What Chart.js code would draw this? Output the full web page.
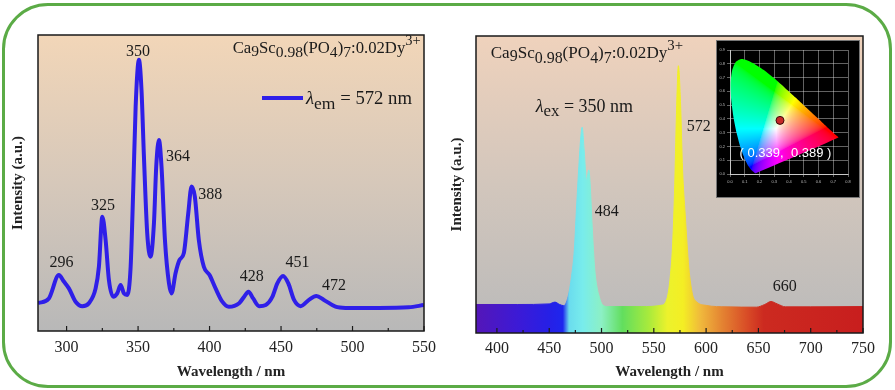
<!DOCTYPE html>
<html><head><meta charset="utf-8">
<script src="https://cdn.jsdelivr.net/npm/chart.js@4.4.1/dist/chart.umd.min.js"></script>
<style>
html,body{margin:0;padding:0;background:#fff;width:895px;height:390px;overflow:hidden;}
#wrap{position:relative;width:895px;height:390px;}
canvas{position:absolute;}
#frame{position:absolute;left:2px;top:3px;width:884px;height:379px;border:3px solid #5bab46;border-radius:46px;pointer-events:none;}
</style></head><body>
<div id="wrap">
<canvas id="c1" width="445" height="390" style="left:0;top:0;width:445px;height:390px"></canvas>
<canvas id="c2" width="450" height="390" style="left:445px;top:0;width:450px;height:390px"></canvas>
<canvas id="c3" width="144" height="158" style="left:716px;top:40px;width:144px;height:158px"></canvas>
<div id="frame"></div>
</div>
<script>
// ---------- DATA ----------
// Excitation spectrum (left), monitored at 572 nm
const excWavelength = [280,287.6,294.6,298.1,301.6,306.3,311,315.6,320.3,322.6,325,327.3,329.6,332.6,335.4,337.8,340.1,342.4,344.8,346.6,348.3,350.6,352.4,354.1,356.4,358.7,361.1,362.7,364.6,366.4,368.8,371.6,373.4,376.2,379,382,385.1,387.4,389.7,392.5,396,400,404.2,408.9,413.5,420.7,424.2,427.2,430.5,434.7,439.3,444,447.4,451.4,455.1,459.1,463.7,469.5,474.7,480,488.1,495.1,518.4,539.3,550];
const excIntensity = [9.4,11,18.9,16.7,14.4,9.9,8.4,9.4,14.4,21.7,38.6,30.7,17.2,11.6,12.7,15.5,12.7,12.2,21.7,47.6,75.8,91.6,81.4,58.9,33,25.1,36.4,55.5,64.5,55.5,30.7,16.1,12.7,19.5,24,26.3,39.8,48.8,45.4,30.7,21.7,18.9,14.4,9.9,8.2,9.4,11.6,13.3,11,8.4,8.8,11.6,16.1,18.6,16.1,10.5,8.4,10.5,11.8,10.5,8.2,7.8,7.8,8,8.8];
const excTicks = [300,350,400,450,500,550];
const excPeakText = ['296','325','350','364','388','428','451','472'];
const excPeakTextX = [296.5,325.5,350,378,400.5,429.5,461.5,487];
const excPeakTextY = [23,42.2,94.3,58.8,46,18.2,23,15.2];

// Emission spectrum (right), excited at 350 nm
const emWavelength = [380,420,450,455.5,460,464,468,471.3,474,476,478.3,480.2,481.5,483.4,485.7,487.9,489.1,491.1,493.6,496.2,497.4,500,506,538,558,563.5,566,568,570,571.5,573.5,575.5,577.5,580,583.5,587,591,600,620,648,656,662,668,676,700,750];
const emIntensity = [9.6,9.6,9.8,10.4,9.6,9.2,12.2,19,28,41.4,56,66,69.3,61.6,51.5,54.9,50.4,35.8,21.2,14.5,12.8,10,8.9,8.9,9.4,13,20,30,50,72,90,78,55,40,22,13,10.5,9.3,8.8,8.7,9.6,10.6,9.8,8.8,8.8,8.9];
const emTicks = [400,450,500,550,600,650,700,750];
const emPeakText = ['484','572','660'];
const emPeakTextX = [505.1,593,675.2];
const emPeakTextY = [40.8,69.4,15.5];

// CIE 1931 inset
const cieLocusX = [0.1741,0.1714,0.1644,0.1566,0.1440,0.1241,0.1096,0.0913,0.0687,0.0454,0.0235,0.0082,0.0039,0.0139,0.0389,0.0743,0.1142,0.1547,0.2296,0.3016,0.3731,0.4441,0.5125,0.5752,0.6270,0.6915,0.7190,0.7347,0.1741];
const cieLocusY = [0.0050,0.0051,0.0109,0.0177,0.0297,0.0578,0.0868,0.1327,0.2007,0.2950,0.4127,0.5384,0.6548,0.7502,0.8120,0.8338,0.8262,0.8059,0.7543,0.6923,0.6245,0.5547,0.4866,0.4242,0.3725,0.3083,0.2809,0.2653,0.0050];
const ciePointX = [0.339];
const ciePointY = [0.389];
const cieTicksX = [0,0.1,0.2,0.3,0.4,0.5,0.6,0.7,0.8];
const cieTicksY = [0,0.1,0.2,0.3,0.4,0.5,0.6,0.7,0.8,0.9];
const cieLabelText = '( 0.339,  0.389 )';
const cieLabelAt = [0.376, 0.149];

// ---------- STYLE ----------
const serif = '"Liberation Serif","Times New Roman",serif';
const spectrumStopWl = [380,420,450,463,469,482,500,520,545,563,578,595,615,640,655,750];
const spectrumStopColor = ['#5416b8','#3c1ad6','#2620e6','#1e26ee','#6adcee','#78ecec','#8cf0c4','#62de5e','#a8ea3c','#ecf22c','#f4ee24','#f0b83c','#e48432','#d84a26','#cc2a20','#c81e1e'];

Chart.defaults.animation = false;
Chart.defaults.responsive = false;
Chart.defaults.devicePixelRatio = 1;
Chart.defaults.font.family = serif;

function drawRuns(ctx, runs, x, y, targetW) {
  let total = 0;
  runs.forEach(r => { ctx.font = (r.it ? 'italic ' : '') + r.sz + 'px ' + serif; total += ctx.measureText(r.t).width; });
  const k = targetW ? targetW / total : 1;
  let cx = x;
  ctx.textAlign = 'left'; ctx.textBaseline = 'alphabetic';
  runs.forEach(r => {
    ctx.font = (r.it ? 'italic ' : '') + (r.sz * k).toFixed(2) + 'px ' + serif;
    ctx.fillText(r.t, cx, y + (r.dy || 0) * k);
    cx += ctx.measureText(r.t).width;
  });
}
const formulaRuns = [
  {t:'Ca',sz:15},{t:'9',sz:14,dy:3},{t:'Sc',sz:15},{t:'0.98',sz:14,dy:4},{t:'(PO',sz:15},
  {t:'4',sz:14,dy:4},{t:')',sz:15},{t:'7',sz:14,dy:4},{t:':0.02Dy',sz:15},{t:'3+',sz:13,dy:-7}
];

function panelPlugin(cfg) {
  return {
    id: 'panel',
    beforeDraw(chart) {
      const {ctx, chartArea: a} = chart;
      const g = ctx.createLinearGradient(0, a.top, 0, a.bottom);
      g.addColorStop(0, cfg.top); g.addColorStop(0.5, cfg.mid); g.addColorStop(1, cfg.bottom);
      ctx.save(); ctx.fillStyle = g; ctx.fillRect(a.left, a.top, a.right - a.left, a.bottom - a.top); ctx.restore();
    },
    afterDatasetsDraw(chart) {
      const {ctx, chartArea: a} = chart;
      const sx = chart.scales.x, sy = chart.scales.y;
      ctx.save();
      ctx.strokeStyle = '#1a1a1a'; ctx.lineWidth = 1.5;
      ctx.strokeRect(a.left, a.top, a.right - a.left, a.bottom - a.top);
      ctx.lineWidth = 1.2;
      const t = cfg.ticks;
      t.forEach((v, i) => {
        const px = sx.getPixelForValue(v);
        ctx.beginPath(); ctx.moveTo(px, a.bottom); ctx.lineTo(px, a.bottom - 5); ctx.stroke();
        if (i < t.length - 1) {
          const m = sx.getPixelForValue((v + t[i + 1]) / 2);
          ctx.beginPath(); ctx.moveTo(m, a.bottom); ctx.lineTo(m, a.bottom - 3); ctx.stroke();
        }
      });
      ctx.fillStyle = '#1a1a1a'; ctx.font = '16px ' + serif; ctx.textAlign = 'center'; ctx.textBaseline = 'middle';
      cfg.labels.forEach((s, i) => ctx.fillText(s, sx.getPixelForValue(cfg.lx[i]), sy.getPixelForValue(cfg.ly[i])));
      cfg.extra(ctx, a);
      ctx.restore();
    }
  };
}

// ---------- LEFT: excitation ----------
new Chart(document.getElementById('c1'), {
  type: 'line',
  data: { datasets: [{ data: excWavelength.map((w, i) => ({x: w, y: excIntensity[i]})), borderColor: '#2f1fe8', borderWidth: 4, pointRadius: 0, cubicInterpolationMode: 'monotone', fill: false }] },
  options: {
    layout: { padding: { left: 0, top: 35, right: 21, bottom: 0 } },
    plugins: { legend: {display: false}, tooltip: {enabled: false} },
    scales: {
      x: { type: 'linear', min: 280, max: 550,
        afterBuildTicks: s => { s.ticks = excTicks.map(v => ({value: v})); },
        afterFit: s => { s.height = 59; },
        grid: {display: false, drawTicks: false}, border: {display: false},
        ticks: { font: {size: 16}, color: '#222', padding: 7, maxRotation: 0, autoSkip: false },
        title: { display: true, text: 'Wavelength / nm', font: {size: 15, weight: 'bold'}, color: '#222', padding: {top: 0, bottom: 9} } },
      y: { min: 0, max: 100, afterFit: s => { s.width = 38; },
        ticks: {display: false}, grid: {display: false, drawTicks: false}, border: {display: false},
        title: { display: true, text: 'Intensity (a.u.)', font: {size: 15, weight: 'bold'}, color: '#222', padding: {top: 9, bottom: 0} } }
    }
  },
  plugins: [panelPlugin({
    top: '#f2d6b8', mid: '#d6c8ba', bottom: '#b8b8b8', ticks: excTicks,
    labels: excPeakText, lx: excPeakTextX, ly: excPeakTextY,
    extra(ctx, a) {
      ctx.fillStyle = '#1a1a1a';
      drawRuns(ctx, formulaRuns, a.right - 191.3, a.top + 17.7, 188);
      ctx.strokeStyle = '#2f1fe8'; ctx.lineWidth = 4;
      ctx.beginPath(); ctx.moveTo(a.right - 162, a.top + 63); ctx.lineTo(a.right - 121, a.top + 63); ctx.stroke();
      drawRuns(ctx, [{t:'λ',sz:16,it:true},{t:'em',sz:15,dy:4},{t:' = 572 nm',sz:16}], a.right - 118, a.top + 69, 106);
    }
  })]
});

// ---------- RIGHT: emission ----------
let rainbowCache = null;
function rainbow(chart) {
  const a = chart.chartArea; if (!a) return 'rgba(0,0,0,0)';
  if (rainbowCache) return rainbowCache;
  const sx = chart.scales.x;
  const x0 = sx.getPixelForValue(spectrumStopWl[0]), x1 = sx.getPixelForValue(spectrumStopWl[spectrumStopWl.length - 1]);
  const g = chart.ctx.createLinearGradient(x0, 0, x1, 0);
  spectrumStopWl.forEach((w, i) => g.addColorStop((sx.getPixelForValue(w) - x0) / (x1 - x0), spectrumStopColor[i]));
  rainbowCache = g; return g;
}
new Chart(document.getElementById('c2'), {
  type: 'line',
  data: { datasets: [{ data: emWavelength.map((w, i) => ({x: w, y: emIntensity[i]})), borderColor: c => rainbow(c.chart), backgroundColor: c => rainbow(c.chart), borderWidth: 1, pointRadius: 0, cubicInterpolationMode: 'monotone', fill: 'origin' }] },
  options: {
    layout: { padding: { left: 0, top: 36, right: 32, bottom: 0 } },
    plugins: { legend: {display: false}, tooltip: {enabled: false} },
    scales: {
      x: { type: 'linear', min: 380, max: 750,
        afterBuildTicks: s => { s.ticks = emTicks.map(v => ({value: v})); },
        afterFit: s => { s.height = 57; },
        grid: {display: false, drawTicks: false}, border: {display: false},
        ticks: { font: {size: 16}, color: '#222', padding: 6, maxRotation: 0, autoSkip: false },
        title: { display: true, text: 'Wavelength / nm', font: {size: 15, weight: 'bold'}, color: '#222', padding: {top: 0, bottom: 9} } },
      y: { min: 0, max: 100, afterFit: s => { s.width = 31; },
        ticks: {display: false}, grid: {display: false, drawTicks: false}, border: {display: false},
        title: { display: true, text: 'Intensity (a.u.)', font: {size: 15, weight: 'bold'}, color: '#222', padding: {top: 3, bottom: 0} } }
    }
  },
  plugins: [panelPlugin({
    top: '#efd2bc', mid: '#d2c6bc', bottom: '#bababa', ticks: emTicks,
    labels: emPeakText, lx: emPeakTextX, ly: emPeakTextY,
    extra(ctx, a) {
      ctx.fillStyle = '#1a1a1a';
      drawRuns(ctx, formulaRuns, a.left + 14.7, a.top + 22, 192.3);
      drawRuns(ctx, [{t:'λ',sz:16,it:true},{t:'ex',sz:15,dy:4},{t:' = 350 nm',sz:16}], a.left + 59.7, a.top + 75.7, 97.3);
    }
  })]
});

// ---------- INSET: CIE ----------
let ciePattern = null;
function cieFill(c) {
  const chart = c.chart; const a = chart.chartArea; if (!a) return 'rgba(0,0,0,0)';
  if (ciePattern) return ciePattern;
  const off = document.createElement('canvas'); off.width = chart.width; off.height = chart.height;
  const octx = off.getContext('2d'); const img = octx.createImageData(off.width, off.height);
  const sx = chart.scales.x, sy = chart.scales.y;
  const gam = v => v <= 0.0031308 ? 12.92 * v : 1.055 * Math.pow(v, 1 / 2.4) - 0.055;
  for (let py = Math.floor(a.top); py < Math.ceil(a.bottom); py++) {
    for (let px = Math.floor(a.left); px < Math.ceil(a.right); px++) {
      const x = sx.getValueForPixel(px + 0.5), y = sy.getValueForPixel(py + 0.5);
      if (y < 0.002) continue;
      const X = x / y, Y = 1, Z = (1 - x - y) / y;
      let r = 3.2406 * X - 1.5372 * Y - 0.4986 * Z;
      let g = -0.9689 * X + 1.8758 * Y + 0.0415 * Z;
      let b = 0.0557 * X - 0.2040 * Y + 1.0570 * Z;
      r = Math.max(r, 0); g = Math.max(g, 0); b = Math.max(b, 0);
      const m = Math.max(r, g, b) || 1;
      const i = (py * off.width + px) * 4;
      img.data[i] = 255 * gam(r / m); img.data[i + 1] = 255 * gam(g / m); img.data[i + 2] = 255 * gam(b / m); img.data[i + 3] = 255;
    }
  }
  octx.putImageData(img, 0, 0);
  ciePattern = chart.ctx.createPattern(off, 'no-repeat');
  return ciePattern;
}
const insetScale = (lo, hi, ticks, fit) => ({
  type: 'linear', min: lo, max: hi, z: 1,
  afterBuildTicks: s => { s.ticks = ticks.map(v => ({value: v})); },
  afterFit: fit,
  grid: { color: 'rgba(225,225,225,0.55)', lineWidth: 0.8, tickLength: 3 },
  border: { color: 'rgba(225,225,225,0.8)' },
  ticks: { font: {size: 4, family: '"Liberation Sans",sans-serif'}, color: '#bbb', padding: 2, autoSkip: false, maxRotation: 0, callback: v => v.toFixed(1) }
});
new Chart(document.getElementById('c3'), {
  type: 'scatter',
  data: { datasets: [
    { data: ciePointX.map((x, i) => ({x, y: ciePointY[i]})), pointRadius: 4, backgroundColor: '#c62828', borderColor: '#3a0a0a', borderWidth: 1, order: 0 },
    { data: cieLocusX.map((x, i) => ({x, y: cieLocusY[i]})), showLine: true, tension: 0.2, pointRadius: 0, borderWidth: 0, borderColor: 'rgba(0,0,0,0)', backgroundColor: cieFill, fill: 'shape', order: 1 }
  ] },
  options: {
    layout: { padding: { left: 0, top: 10, right: 12, bottom: 0 } },
    plugins: { legend: {display: false}, tooltip: {enabled: false} },
    scales: {
      x: insetScale(0, 0.8, cieTicksX, s => { s.height = 24; }),
      y: insetScale(0, 0.9, cieTicksY, s => { s.width = 14; })
    }
  },
  plugins: [{
    id: 'inset',
    beforeDraw(chart) { const ctx = chart.ctx; ctx.save(); ctx.fillStyle = '#000'; ctx.fillRect(0, 0, chart.width, chart.height); ctx.strokeStyle = '#777'; ctx.lineWidth = 1; ctx.strokeRect(0.5, 0.5, chart.width - 1, chart.height - 1); ctx.restore(); },
    afterDraw(chart) {
      const ctx = chart.ctx; ctx.save();
      ctx.fillStyle = '#fff'; ctx.font = '13px "Liberation Sans",sans-serif'; ctx.textAlign = 'center'; ctx.textBaseline = 'middle';
      ctx.fillText(cieLabelText, chart.scales.x.getPixelForValue(cieLabelAt[0]), chart.scales.y.getPixelForValue(cieLabelAt[1]));
      ctx.restore();
    }
  }]
});
</script>
</body></html>
